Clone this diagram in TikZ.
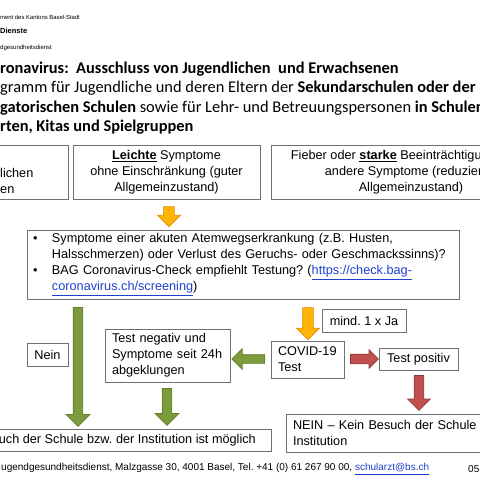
\documentclass[tikz,border=0pt]{standalone}
\usepackage{fontspec}
\setmainfont{Liberation Sans}
\newfontfamily\titlefont{Carlito}
\usetikzlibrary{shapes.arrows,calc}
\frenchspacing
\definecolor{boxLine}{HTML}{707070}
\definecolor{linkBlue}{HTML}{1F3FCF}
\definecolor{arrOrange}{HTML}{FFB405}
\definecolor{arrOrangeLine}{HTML}{E08A00}
\definecolor{arrGreen}{HTML}{7C9B3C}
\definecolor{arrGreenLine}{HTML}{5F7C2A}
\definecolor{arrRed}{HTML}{C0504D}
\definecolor{arrRedLine}{HTML}{8E3A38}
\newcommand{\boxfont}{\fontsize{12.7}{16}\selectfont}
\newcommand{\weblink}[1]{\textcolor{linkBlue}{\underline{#1}}}
\tikzset{
  % --- boxes ---------------------------------------------------------------
  box/.style     = {draw=boxLine, line width=0.9pt, font=\boxfont, inner sep=0pt},
  boxc/.style    = {box, align=center},
  boxl/.style    = {box, align=left, inner xsep=7pt},
  lbl/.style     = {font=\boxfont, inner sep=0pt},
  % --- block arrows ----------------------------------------------------------
  blockarr/.style = {single arrow, single arrow tip angle=90, inner xsep=0pt,
                     minimum width=0pt, line width=0.7pt},
  oarrow/.style  = {blockarr, fill=arrOrange, draw=arrOrangeLine,
                    inner ysep=5pt, single arrow head extend=6pt},
  garrow/.style  = {blockarr, fill=arrGreen, draw=arrGreenLine,
                    inner ysep=4.5pt, single arrow head extend=7pt},
  rarrow/.style  = {blockarr, fill=arrRed, draw=arrRedLine,
                    inner ysep=4.5pt, single arrow head extend=6.5pt},
  % --- header text -------------------------------------------------------------
  head/.style    = {inner sep=0pt, anchor=west},
  title/.style   = {inner sep=0pt, anchor=base west,
                    font=\titlefont\fontsize{16.4}{20}\selectfont},
}

\begin{document}
\begin{tikzpicture}[x=1pt, y=-1pt]
\useasboundingbox (0,0) rectangle (480,480);
\clip (0,0) rectangle (480,480);

% header
\node[head, font=\fontsize{5.9}{7}\selectfont] (dept) at (0,17) {ment des Kantons Basel-Stadt};
\node[head, font=\fontsize{7.5}{9}\selectfont\bfseries] (serv) at (0,31) {Dienste};
\node[head, font=\fontsize{6}{7}\selectfont] (unit) at (0,48) {dgesundheitsdienst};

% title
\node[title] (t1) at (0,73) {\bfseries ronavirus:~ Ausschluss von Jugendlichen~ und Erwachsenen};
\node[title] (t2) at (0,92.5) {gramm für Jugendliche und deren Eltern der \textbf{Sekundarschulen oder der}};
\node[title] (t3) at (0,112) {\textbf{gatorischen Schulen} sowie für Lehr- und Betreuungspersonen \textbf{in Schulen}};
\node[title] (t4) at (0,131.5) {\bfseries rten, Kitas und Spielgruppen};

% symptom classes
\node[box, minimum width=188pt, minimum height=54pt] (none) at (-26,172) {};
\node[lbl, anchor=west, align=left] (nonetxt) at (0,181) {lichen\\en};
\node[boxc, minimum width=187pt, minimum height=54pt] (mild) at (166.5,172.5)
     {\underline{\textbf{Leichte}} Symptome\\ohne Einschränkung (guter\\Allgemeinzustand)};
\node[boxc, minimum width=280pt, minimum height=54pt] (severe) at (411,172.5)
     {Fieber oder \underline{\textbf{starke}} Beeinträchtigung durch\\andere Symptome (reduzierter\\Allgemeinzustand)};

\node[oarrow, minimum height=20pt, rotate=-90] (amild) at (169,214) {};

% questions
\node[boxl, text width=420pt, inner xsep=6pt, minimum height=69pt] (bul) at (243,264.5)
     {\makebox[19pt][l]{\textbullet}Symptome einer akuten Atemwegserkrankung (z.B. Husten,\\
      \hspace*{19pt}Halsschmerzen) oder Verlust des Geruchs- oder Geschmackssinns)?\\
      \makebox[19pt][l]{\textbullet}BAG Coronavirus-Check empfiehlt Testung? (\weblink{https://check.bag-}\\
      \hspace*{19pt}\weblink{coronavirus.ch/screening})};

% answers
\node[garrow, minimum height=119pt, rotate=-90] (anein) at (78,364.5) {};
\node[boxc, minimum width=41pt, minimum height=23pt] (nein) at (47.5,354.5) {Nein};

\node[oarrow, minimum height=32pt, rotate=-90] (aja) at (308,321) {};
\node[boxc, minimum width=84pt, minimum height=23pt] (ja) at (364,320.5) {mind. 1 x Ja};

\node[boxl, text width=59pt, minimum height=37pt] (covid) at (307.5,359.5) {COVID-19\\Test};

\node[garrow, minimum height=33pt, rotate=180, inner ysep=4pt, single arrow head extend=6pt] (aneg) at (250.5,359) {};
\node[boxl, text width=111pt, minimum height=53pt] (neg) at (167.5,355.5)
     {Test negativ und\\Symptome seit 24h\\abgeklungen};
\node[garrow, minimum height=37pt, rotate=-90] (ayes) at (167,404.5) {};

\node[rarrow, minimum height=28pt, inner ysep=4.5pt, single arrow head extend=4.5pt] (apos) at (362,359) {};
\node[boxc, minimum width=79pt, minimum height=22pt] (pos) at (418.5,359) {Test positiv};
\node[rarrow, minimum height=35pt, rotate=-90] (ano) at (419,390.5) {};

% decisions
\node[box, minimum width=401pt, minimum height=22pt] (yes) at (70.5,440) {};
\node[lbl, anchor=east] (yestxt) at (256,440) {uch der Schule bzw. der Institution ist möglich};
\node[boxl, text width=320pt, minimum height=38pt] (no) at (453,433)
     {NEIN – Kein Besuch der Schule bzw. der\\Institution};

% footer
\node[head, font=\fontsize{10}{12}\selectfont] (foot) at (1,469)
     {ugendgesundheitsdienst, Malzgasse 30, 4001 Basel, Tel. +41 (0) 61 267 90 00, \weblink{schularzt@bs.ch}};
\node[head, font=\fontsize{10}{12}\selectfont] (date) at (468,469) {05};
\end{tikzpicture}
\end{document}
